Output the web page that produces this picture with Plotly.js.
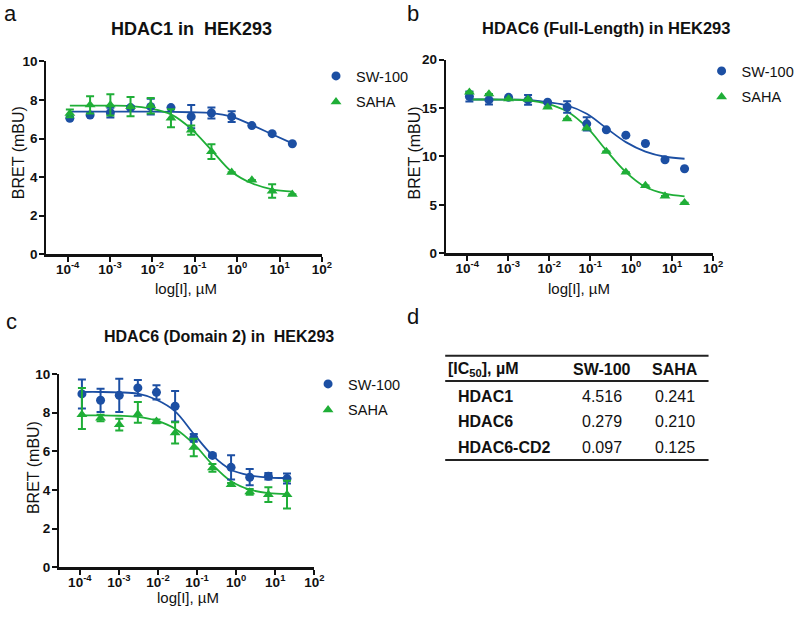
<!DOCTYPE html>
<html>
<head>
<meta charset="utf-8">
<script src="https://cdn.plot.ly/plotly-3.0.1.min.js"></script>
<style>
  html, body { margin: 0; padding: 0; background: #ffffff; }
  #chart { width: 800px; height: 620px; }
</style>
</head>
<body>
<div id="chart"></div>
<script>
// ---------------- DATA ----------------
// concentrations, µM (3-fold dilution series)
const doses = [0.000113, 0.000339, 0.00102, 0.00305, 0.00914, 0.0274, 0.0823, 0.247, 0.741, 2.22, 6.67, 20];
const seriesNames = ['SW-100', 'SAHA'];

// Panel a: HDAC1 in HEK293
const a_sw_mean = [7.05, 7.22, 7.34, 7.60, 7.65, 7.60, 7.13, 7.32, 7.13, 6.67, 6.25, 5.73];
const a_sw_err  = [0, 0, 0.25, 0.08, 0.41, 0, 0.60, 0.28, 0.28, 0, 0, 0];
const a_sw_fit  = [7.39, 7.39, 7.39, 7.39, 7.39, 7.38, 7.36, 7.32, 7.13, 6.70, 6.22, 5.75];
const a_sa_mean = [7.30, 7.74, 7.74, 7.65, 7.70, 7.05, 6.44, 5.32, 4.25, 3.85, 3.28, 3.11];
const a_sa_err  = [0.20, 0.45, 0.55, 0.50, 0.40, 0.47, 0.24, 0.38, 0, 0, 0.35, 0];
const a_sa_fit  = [7.70, 7.70, 7.70, 7.68, 7.55, 7.25, 6.50, 5.40, 4.28, 3.68, 3.37, 3.25];

// Panel b: HDAC6 (Full-Length) in HEK293
const b_sw_mean = [16.19, 15.84, 16.10, 15.84, 15.60, 15.10, 13.37, 12.75, 12.20, 11.34, 9.66, 8.73];
const b_sw_err  = [0.52, 0.47, 0, 0.50, 0, 0.60, 0.69, 0, 0, 0, 0, 0];
const b_sw_fit  = [15.88, 15.88, 15.87, 15.85, 15.60, 15.26, 14.40, 12.92, 11.48, 10.50, 9.97, 9.76];
const b_sa_mean = [16.63, 16.46, 15.95, 15.90, 15.09, 13.88, 12.92, 10.52, 8.38, 7.00, 5.91, 5.22];
const b_sa_err  = [0, 0, 0, 0, 0, 0, 0, 0, 0, 0, 0, 0];
const b_sa_fit  = [15.88, 15.88, 15.86, 15.80, 15.43, 14.64, 13.02, 10.62, 8.38, 6.84, 6.15, 5.88];

// Panel c: HDAC6 (Domain 2) in HEK293
const c_sw_mean = [8.97, 8.64, 8.90, 9.28, 9.05, 8.33, 6.69, 5.79, 5.17, 4.66, 4.71, 4.59];
const c_sw_err  = [0.75, 0.60, 0.86, 0.41, 0.37, 0.79, 0.20, 0.08, 0.63, 0.42, 0.17, 0.26];
const c_sw_fit  = [9.07, 9.07, 9.05, 8.98, 8.67, 8.07, 6.90, 5.79, 5.05, 4.76, 4.64, 4.62];
const c_sa_mean = [7.90, 7.72, 7.38, 7.93, 7.55, 6.95, 6.20, 5.14, 4.28, 3.90, 3.76, 3.76];
const c_sa_errUp   = [1.38, 0.17, 0.30, 0.62, 0.10, 0.55, 0.45, 0.20, 0.08, 0.15, 0.38, 0.72];
const c_sa_errDown = [0.74, 0.17, 0.30, 0.45, 0.10, 0.55, 0.45, 0.20, 0.08, 0.15, 0.38, 0.72];
const c_sa_fit  = [7.86, 7.86, 7.84, 7.78, 7.59, 7.17, 6.38, 5.31, 4.45, 4.02, 3.84, 3.79];

// x tick labels
const xTickVals = [1e-4, 1e-3, 1e-2, 1e-1, 1e0, 1e1, 1e2];
const xTickText = ['10<sup>-4</sup>', '10<sup>-3</sup>', '10<sup>-2</sup>', '10<sup>-1</sup>', '10<sup>0</sup>', '10<sup>1</sup>', '10<sup>2</sup>'];

// panel d table
const tableHeader = ['[IC<sub>50</sub>], µM', 'SW-100', 'SAHA'];
const tableRows   = ['HDAC1', 'HDAC6', 'HDAC6-CD2'];
const ic50_sw     = ['4.516', '0.279', '0.097'];
const ic50_saha   = ['0.241', '0.210', '0.125'];

// ---------------- STYLE ----------------
const BLUE = '#1c4fa3';
const GREEN = '#1fae37';
const FONT = 'Arial, "Liberation Sans", Helvetica, sans-serif';
const W = 800, H = 620;
const px = x => x / W;
const py = y => 1 - y / H;

function pointsTrace(y, err, errMinus, name, color, symbol, xa, ya, legendName) {
  const e = { type: 'data', array: err, color: color, thickness: 2, width: 4, visible: true };
  if (errMinus) { e.symmetric = false; e.arrayminus = errMinus; }
  return {
    x: doses, y: y, type: 'scatter', mode: 'markers', name: name,
    xaxis: xa, yaxis: ya, legend: legendName, legendgroup: name,
    marker: { color: color, size: symbol === 'circle' ? 9 : 9.5, symbol: symbol, line: { width: 0 } },
    error_y: e, cliponaxis: false
  };
}
function fitTrace(y, color, xa, ya) {
  return {
    x: doses, y: y, type: 'scatter', mode: 'lines', showlegend: false,
    xaxis: xa, yaxis: ya, hoverinfo: 'skip',
    line: { color: color, width: 1.8, shape: 'spline', smoothing: 1 }
  };
}

const traces = [
  fitTrace(a_sw_fit, BLUE, 'x', 'y'),
  fitTrace(a_sa_fit, GREEN, 'x', 'y'),
  pointsTrace(a_sw_mean, a_sw_err, null, seriesNames[0], BLUE, 'circle', 'x', 'y', 'legend'),
  pointsTrace(a_sa_mean, a_sa_err, null, seriesNames[1], GREEN, 'triangle-up', 'x', 'y', 'legend'),

  fitTrace(b_sw_fit, BLUE, 'x2', 'y2'),
  fitTrace(b_sa_fit, GREEN, 'x2', 'y2'),
  pointsTrace(b_sw_mean, b_sw_err, null, seriesNames[0], BLUE, 'circle', 'x2', 'y2', 'legend2'),
  pointsTrace(b_sa_mean, b_sa_err, null, seriesNames[1], GREEN, 'triangle-up', 'x2', 'y2', 'legend2'),

  fitTrace(c_sw_fit, BLUE, 'x3', 'y3'),
  fitTrace(c_sa_fit, GREEN, 'x3', 'y3'),
  pointsTrace(c_sw_mean, c_sw_err, null, seriesNames[0], BLUE, 'circle', 'x3', 'y3', 'legend3'),
  pointsTrace(c_sa_mean, c_sa_errUp, c_sa_errDown, seriesNames[1], GREEN, 'triangle-up', 'x3', 'y3', 'legend3')
];

function xAxis(domain, range, anchor) {
  return {
    type: 'log', domain: domain, range: range, anchor: anchor,
    tickmode: 'array', tickvals: xTickVals, ticktext: xTickText,
    showline: true, linecolor: '#111', linewidth: 2.2, mirror: false,
    ticks: 'outside', ticklen: 5, tickwidth: 2, tickcolor: '#111',
    ticklabelstandoff: -4,
    showgrid: false, zeroline: false,
    tickfont: { family: FONT, size: 13.5, color: '#111', weight: 'bold' }
  };
}
function yAxis(domain, range, dtick, anchor) {
  return {
    domain: domain, range: range, dtick: dtick, anchor: anchor,
    showline: true, linecolor: '#111', linewidth: 2.2,
    ticks: 'outside', ticklen: 5, tickwidth: 2, tickcolor: '#111',
    ticklabelstandoff: -1,
    showgrid: false, zeroline: false,
    tickfont: { family: FONT, size: 13.5, color: '#111', weight: 'bold' }
  };
}

function legendBox(xp, yp) {
  return {
    x: px(xp), y: py(yp), xanchor: 'left', yanchor: 'top',
    bgcolor: 'rgba(0,0,0,0)', borderwidth: 0, tracegroupgap: 4,
    font: { family: FONT, size: 14.5, color: '#111' },
    itemclick: false, itemdoubleclick: false
  };
}

function ann(text, x, y, size, opts) {
  return Object.assign({
    text: text, x: px(x), y: py(y), xref: 'paper', yref: 'paper',
    showarrow: false, xanchor: 'center', yanchor: 'middle',
    font: { family: FONT, size: size, color: '#111' }
  }, opts || {});
}

const annotations = [
  // panel letters
  ann('a', 10.5, 13.5, 22),
  ann('b', 416, 13, 22),
  ann('c', 12, 321, 22),
  ann('d', 415.5, 317, 22),
  // titles
  ann('<b>HDAC1 in  HEK293</b>', 192.5, 28.5, 18),
  ann('<b>HDAC6 (Full-Length) in HEK293</b>', 610, 28, 16.5),
  ann('<b>HDAC6 (Domain 2) in  HEK293</b>', 220.5, 336, 16),
  // y-axis titles
  ann('BRET (mBU)', 18.3, 153, 16, { textangle: -90 }),
  ann('BRET (mBU)', 417, 153, 16, { textangle: -90 }),
  ann('BRET (mBU)', 33.3, 468, 16, { textangle: -90 }),
  // x-axis titles
  ann('log[I], µM', 187.5, 289, 15),
  ann('log[I], µM', 583, 289, 15),
  ann('log[I], µM', 189, 597, 15)
];

// table (panel d)
const tblLeft = 448, tblRight = 713;
const colX = [null, 606, 679];
const headerY = 369;
const rowY = [396, 421.7, 447.3];
annotations.push(ann('<b>' + tableHeader[0] + '</b>', 449, headerY, 16, { xanchor: 'left' }));
annotations.push(ann('<b>' + tableHeader[1] + '</b>', colX[1], headerY, 16));
annotations.push(ann('<b>' + tableHeader[2] + '</b>', colX[2], headerY, 16));
tableRows.forEach((r, i) => {
  annotations.push(ann('<b>' + r + '</b>', 459, rowY[i], 16, { xanchor: 'left' }));
  annotations.push(ann(ic50_sw[i], colX[1], rowY[i], 16));
  annotations.push(ann(ic50_saha[i], colX[2], rowY[i], 16));
});

const shapes = [355.7, 381, 460].map(yy => ({
  type: 'line', xref: 'paper', yref: 'paper',
  x0: px(tblLeft), x1: px(tblRight), y0: py(yy), y1: py(yy),
  line: { color: '#222', width: 2 }
}));

const layout = {
  width: W, height: H,
  margin: { l: 0, r: 0, t: 0, b: 0 },
  paper_bgcolor: '#ffffff', plot_bgcolor: '#ffffff',
  font: { family: FONT, color: '#111' },
  showlegend: true,
  xaxis:  xAxis([px(46.7), px(324)], [-4.5, 2], 'y'),
  yaxis:  yAxis([py(254.3), py(61.3)], [0, 10], 2, 'x'),
  xaxis2: xAxis([px(448.7), px(717.7)], [-4.52, 2], 'y2'),
  yaxis2: yAxis([py(253.3), py(59.6)], [0, 20], 5, 'x2'),
  xaxis3: xAxis([px(59.5), px(316.3)], [-4.53, 2], 'y3'),
  yaxis3: yAxis([py(567.3), py(374)], [0, 10], 2, 'x3'),
  legend:  legendBox(318, 60),
  legend2: legendBox(706, 55),
  legend3: legendBox(310, 368),
  annotations: annotations,
  shapes: shapes
};

Plotly.newPlot('chart', traces, layout, { displayModeBar: false, staticPlot: true });
</script>
</body>
</html>
